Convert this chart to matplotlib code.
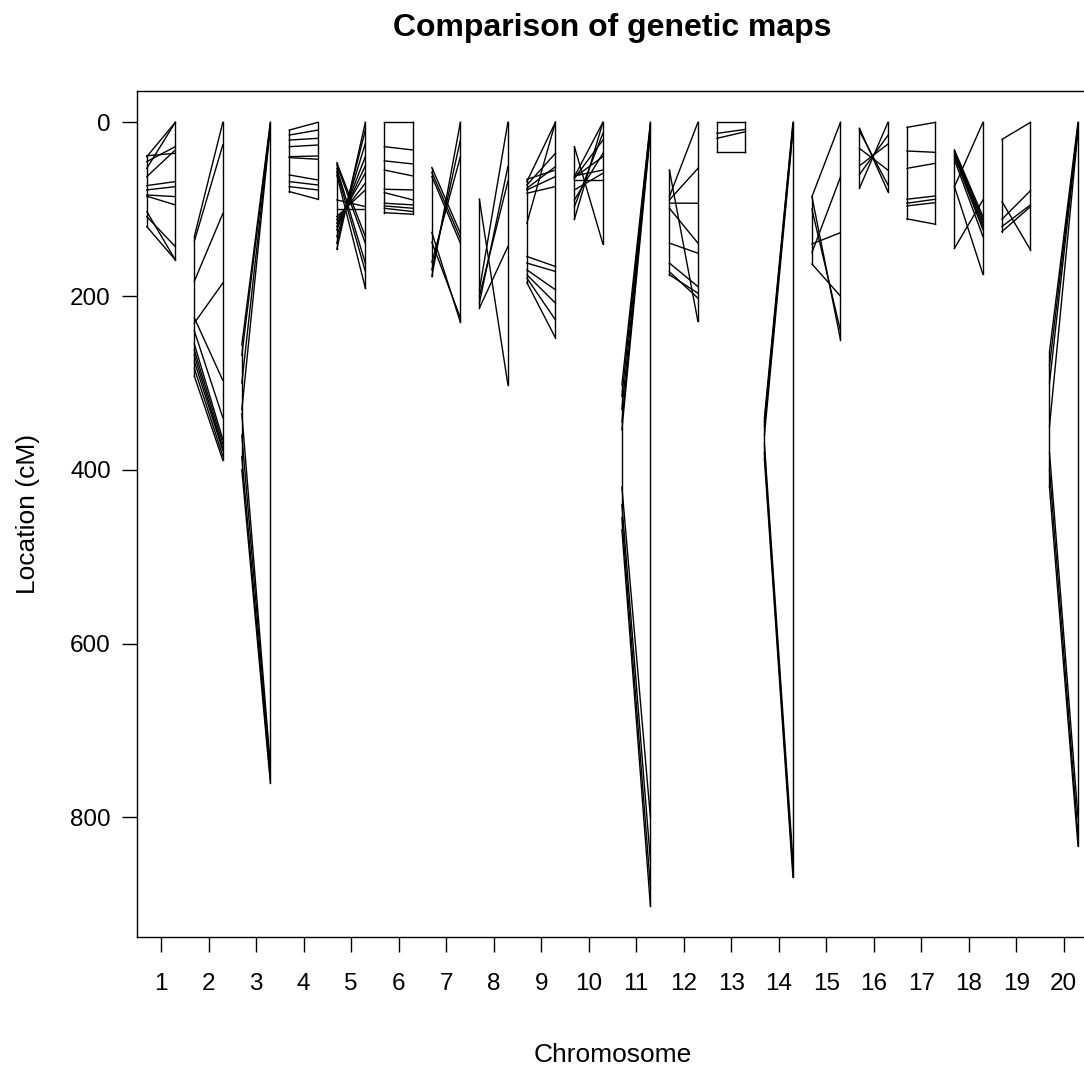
import matplotlib
matplotlib.use("Agg")
import matplotlib.pyplot as plt

# marker positions (cM) in map 1 (left) and map 2 (right) for each chromosome
chr_ids = [str(i) for i in range(1, 21)]

map1 = {
    "1": [38.4, 39.5, 45.2, 52.9, 62.5, 72.8, 77.8, 83.6, 85, 102.7, 108.5, 120],
    "2": [131.5, 137, 183, 225, 231, 240, 255, 262, 268, 275, 283, 292],
    "3": [256, 268, 300, 331, 335, 360, 385, 400],
    "4": [8.9, 14.6, 20.4, 28, 39.5, 40.6, 60.6, 68.2, 74, 79.7],
    "5": [46.4, 49, 52.9, 56.7, 60.6, 89.3, 100, 108.5, 112, 116.1, 120, 123.8, 131.5, 139.2, 146],
    "6": [0, 28, 44.3, 54.9, 77, 80.9, 93.1, 96.2, 98.9, 104],
    "7": [52, 57.7, 62.3, 126.7, 138, 161, 169.8, 177.4],
    "8": [88.5, 193, 200, 208, 213.8],
    "9": [65.6, 68.2, 72.1, 75.9, 77.8, 81.6, 116.1, 154.4, 162, 169.8, 175.5, 179.3, 184.4],
    "10": [28, 61.7, 62.5, 63.3, 64.4, 66.3, 77.8, 89.3, 97, 111.5],
    "11": [302, 315, 330, 345, 354, 420, 440, 455, 469],
    "12": [54.9, 85.5, 89.3, 93, 98.9, 139, 162, 175.5, 172],
    "13": [0, 12.7, 18.4, 33.8],
    "14": [340, 345, 350, 360, 370, 380, 388],
    "15": [85.5, 85.5, 100, 140, 150, 163],
    "16": [6.9, 10, 30, 50, 60, 75.9],
    "17": [5.8, 33.0, 52.9, 88.5, 93.1, 96.2, 111.1],
    "18": [31.8, 33.8, 35.7, 37.6, 39.5, 43.4, 74, 74, 145],
    "19": [19.6, 91.2, 111.5, 119.9, 125.7],
    "20": [264, 280, 300, 350, 380, 400, 420],
}
map2 = {
    "1": [35.7, 0, 28, 0, 31.8, 68.2, 74, 85.5, 95, 158.3, 143, 158.3],
    "2": [0, 26, 105, 297, 185, 340, 365, 370, 375, 378, 384, 389],
    "3": [0, 2, 4, 6, 740, 748, 755, 760],
    "4": [0, 8.9, 18.4, 26.1, 38.7, 42.5, 66.3, 72.1, 77.8, 88.5],
    "5": [131.5, 139.2, 162.1, 171.6, 190.8, 97, 100, 77.8, 70, 58.6, 50, 39.5, 24.2, 8.9, 0],
    "6": [0, 31.8, 47.9, 61.7, 77.8, 89.3, 95, 98.9, 102.7, 105.8],
    "7": [127.6, 133.4, 139, 230, 225, 39.5, 20.4, 0],
    "8": [302, 0, 68, 51, 143],
    "9": [54.9, 0, 35.7, 51, 62.5, 74, 0, 165.9, 171.6, 192.7, 208, 227.2, 248],
    "10": [139.9, 54.9, 0, 39.5, 20.4, 66.3, 58.6, 35.7, 12.7, 0],
    "11": [0, 2, 5, 8, 12, 800, 850, 880, 902],
    "12": [229.2, 0, 53, 93.1, 139, 150.6, 189, 196.6, 202.4],
    "13": [0, 8.1, 10.8, 33.8],
    "14": [0, 3, 6, 10, 850, 860, 869],
    "15": [0, 250, 240, 127, 63, 200],
    "16": [79.7, 72, 55, 25, 15, 0],
    "17": [0, 34.5, 47.2, 84.7, 88.5, 92.4, 117.3],
    "18": [108.5, 112.3, 116.1, 120, 123.8, 131.5, 0, 175, 89.3],
    "19": [0, 146.8, 78.6, 95, 97],
    "20": [0, 3, 6, 10, 800, 820, 833],
}

y_ticks = [0, 200, 400, 600, 800]

fig = plt.figure(figsize=(10.84, 10.68), dpi=100)
ax = fig.add_axes([137.3 / 1084, 130.7 / 1068, (1087.5 - 137.3) / 1084, (937.3 - 91) / 1068])

off = 0.3
lw = 1.0
for i, c in enumerate(chr_ids, start=1):
    a = map1[c]
    b = map2[c]
    ax.plot([i - off, i - off], [min(a), max(a)], color="black", lw=lw)
    ax.plot([i + off, i + off], [min(b), max(b)], color="black", lw=lw)
    for ya, yb in zip(a, b):
        ax.plot([i - off, i + off], [ya, yb], color="black", lw=lw)

ymax = max(max(max(v) for v in map1.values()), max(max(v) for v in map2.values()))
ax.set_xlim(0.5, len(chr_ids) + 0.5)
ax.set_ylim(ymax * 1.04, -ymax * 0.04)
ax.set_xticks(range(1, len(chr_ids) + 1))
ax.set_xticklabels(chr_ids, fontsize=17.5, family="Liberation Sans")
ax.set_yticks(y_ticks)
ax.set_yticklabels([str(v) for v in y_ticks], fontsize=17.5, family="Liberation Sans")
ax.tick_params(direction="out", length=11, width=1, pad=8, colors="black")
ax.tick_params(axis="x", pad=15)
for s in ax.spines.values():
    s.set_linewidth(1.0)
    s.set_color("black")

ax.set_xlabel("Chromosome", fontsize=19, family="Liberation Sans", labelpad=34)
ax.set_ylabel("Location (cM)", fontsize=19, family="Liberation Sans", labelpad=22)
fig.text(612 / 1084, 1 - 28 / 1068, "Comparison of genetic maps", ha="center", va="center",
         fontsize=23, fontweight="bold", family="Liberation Sans")

fig.savefig("out.png", dpi=100)
